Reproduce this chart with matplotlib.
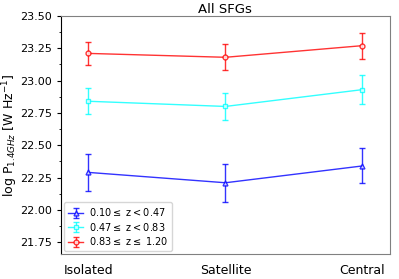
import numpy as np
import matplotlib.pyplot as plt
from matplotlib.ticker import MultipleLocator

env = ['Isolated', 'Satellite', 'Central']
labels = [r'0.10$\leq$ z$<$0.47', r'0.47$\leq$ z$<$0.83', r'0.83$\leq$ z$\leq$ 1.20']

p_low = [22.29, 22.21, 22.34]
e_low = [0.14, 0.145, 0.135]
p_mid = [22.84, 22.80, 22.93]
e_mid = [0.10, 0.105, 0.11]
p_high = [23.21, 23.18, 23.27]
e_high = [0.09, 0.10, 0.10]

x = np.arange(len(env))

fig = plt.figure(figsize=(3.99, 2.79), dpi=100)
ax = fig.add_axes([0.153, 0.09, 0.824, 0.853])

for y, e, c, m, lab in [(p_low, e_low, 'blue', '^', labels[0]),
                        (p_mid, e_mid, 'cyan', 's', labels[1]),
                        (p_high, e_high, 'red', 'o', labels[2])]:
    ax.errorbar(x, y, yerr=e, color=c, marker=m, ms=3.5, mfc='white', mec=c,
                lw=1.0, elinewidth=1.0, capsize=2, capthick=1.0, alpha=0.8, label=lab)

ax.set_xlim(-0.2, 2.2)
ax.set_ylim(21.66, 23.5)
ax.yaxis.set_major_locator(MultipleLocator(0.25))
ax.yaxis.set_minor_locator(MultipleLocator(0.125))
ax.yaxis.set_major_formatter(plt.FormatStrFormatter('%.2f'))
ax.set_xticks(x)
ax.set_xticklabels(env, fontsize=9)
ax.tick_params(axis='x', length=0, pad=7)
ax.tick_params(axis='y', labelsize=8, length=3)
ax.tick_params(axis='y', which='minor', length=1.5)
for s in ['top', 'right', 'bottom']:
    ax.spines[s].set_color('grey')
ax.set_ylabel(r'log P$_{1.4GHz}$ [W Hz$^{-1}$]', fontsize=9)
ax.yaxis.set_label_coords(-0.125, 0.5)
ax.set_title('All SFGs', fontsize=9.5, pad=2)
ax.legend(loc='lower left', fontsize=7, handlelength=1.6, borderaxespad=0.3,
          labelspacing=0.25, handletextpad=0.6)

fig.savefig('out.png', dpi=100)
